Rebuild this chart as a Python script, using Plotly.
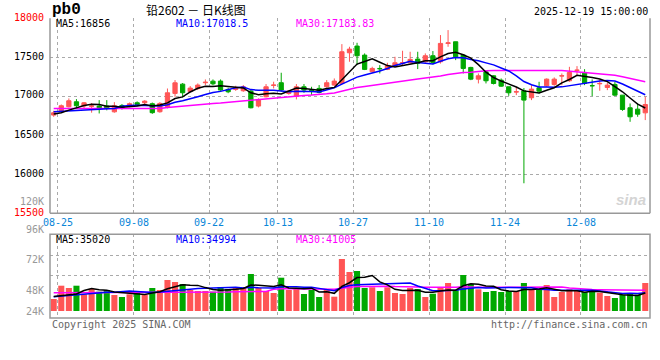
import plotly.graph_objects as go
import pandas as pd

# ---------------- data ----------------
holidays = ["2025-10-01", "2025-10-02", "2025-10-03", "2025-10-06", "2025-10-07", "2025-10-08"]
days = [d for d in pd.bdate_range("2025-08-25", "2025-12-19") if d.strftime("%Y-%m-%d") not in holidays]
dates = [d.strftime("%m-%d") for d in days]

tick_dates = ["08-25", "09-08", "09-22", "10-13", "10-27", "11-10", "11-24", "12-08"]

opens = [16759, 16802, 16866, 16930, 16875, 16872, 16875, 16875, 16801, 16883,
         16875, 16917, 16917, 16905, 16802, 16866, 17037, 17156, 17062, 17101,
         17174, 17194, 17195, 17088, 17088, 17071, 17067, 16875, 16994, 17140,
         17174, 17037, 17003, 17122, 17075, 17101, 17122, 17144, 17165, 17558,
         17644, 17528, 17315, 17357, 17345, 17387, 17425, 17430, 17477, 17443,
         17520, 17443, 17677, 17699, 17528, 17370, 17220, 17314, 17263, 17207,
         17122, 17055, 17070, 16981, 17109, 17135, 17152, 17260, 17199, 17332,
         17306, 17137, 17160, 17113, 17152, 17015, 16853, 16835, 16788]
highs = [16815, 16895, 16973, 16964, 16926, 16913, 16951, 16951, 16925, 16900,
         16920, 16935, 16950, 16920, 16925, 17100, 17208, 17170, 17131, 17165,
         17216, 17216, 17216, 17110, 17135, 17144, 17080, 16973, 17157, 17187,
         17302, 17080, 17157, 17157, 17122, 17144, 17208, 17229, 17669, 17635,
         17686, 17550, 17379, 17400, 17430, 17507, 17584, 17571, 17571, 17550,
         17580, 17785, 17849, 17700, 17540, 17378, 17293, 17323, 17270, 17229,
         17122, 17122, 17106, 17143, 17186, 17229, 17242, 17293, 17378, 17387,
         17348, 17216, 17216, 17173, 17186, 17015, 16908, 16908, 16994]
lows = [16737, 16790, 16858, 16858, 16845, 16790, 16780, 16820, 16790, 16830,
        16860, 16880, 16890, 16775, 16790, 16845, 16994, 16986, 17050, 17080,
        17144, 17140, 17070, 17040, 17070, 17058, 16845, 16858, 16986, 17101,
        17058, 17020, 16960, 17045, 17016, 17037, 17110, 17135, 17157, 17443,
        17400, 17336, 17302, 17293, 17336, 17387, 17400, 17422, 17349, 17430,
        17410, 17420, 17635, 17464, 17293, 17207, 17165, 17165, 17152, 17122,
        17006, 17015, 15885, 16951, 17036, 17122, 17135, 17143, 17186, 17272,
        17143, 17002, 17071, 17079, 17006, 16814, 16673, 16737, 16695]
closes = [16789, 16879, 16943, 16879, 16917, 16875, 16853, 16845, 16878, 16853,
          16905, 16896, 16938, 16790, 16909, 17045, 17173, 17045, 17105, 17144,
          17180, 17160, 17080, 17058, 17113, 17122, 16853, 16952, 17122, 17144,
          17080, 17067, 17122, 17080, 17071, 17050, 17174, 17195, 17571, 17605,
          17520, 17345, 17357, 17353, 17392, 17430, 17430, 17473, 17422, 17520,
          17434, 17678, 17685, 17506, 17357, 17220, 17263, 17199, 17164, 17130,
          17045, 17058, 16951, 17092, 17066, 17220, 17220, 17263, 17306, 17335,
          17165, 17135, 17165, 17143, 17015, 16831, 16737, 16771, 16895]

# volume in thousands of lots
volumes = [24.0, 50.6, 46.0, 50.6, 33.4, 44.0, 38.6, 42.0, 32.0, 28.0,
           33.4, 40.0, 32.0, 46.0, 42.0, 62.0, 58.0, 54.0, 42.0, 40.0,
           40.0, 38.6, 48.0, 44.0, 46.0, 48.0, 74.0, 46.0, 40.0, 36.0,
           66.6, 42.0, 44.0, 34.0, 42.0, 28.0, 44.0, 28.6, 104.0, 78.0,
           80.0, 46.0, 47.4, 40.0, 47.4, 36.0, 34.0, 46.0, 44.0, 28.0,
           34.6, 48.0, 56.0, 42.0, 72.0, 54.0, 43.4, 38.0, 40.0, 38.0,
           40.0, 40.0, 56.0, 42.0, 42.0, 52.0, 28.0, 38.0, 43.4, 40.0,
           38.0, 38.0, 36.6, 30.0, 26.0, 32.0, 34.0, 32.6, 56.0]

# moving-average values for days whose window starts before 08-25
ma5_head = [16772, 16790, 16823, 16855]
ma10_head = [16802, 16806, 16810, 16815, 16820, 16828, 16835, 16840, 16845]
ma30_head = [16845, 16845, 16840, 16840, 16836, 16836, 16836, 16836, 16836, 16836,
             16836, 16836, 16836, 16840, 16845, 16857, 16866, 16875, 16887, 16896,
             16905, 16909, 16913, 16922, 16930, 16945, 16950, 16960, 16972]
vma5_head = [29.0, 31.0, 32.6, 34.0]
vma10_head = [28.6, 30.0, 31.4, 32.8, 34.2, 35.6, 36.8, 37.4, 37.4]
vma30_head = [36.6] * 16 + [37.0, 37.0, 37.4, 37.4, 37.8, 37.8, 38.0, 38.0, 38.4, 38.4, 38.8, 38.8, 39.2]

price_labels = ["18000", "17500", "17000", "16500", "16000", "15500"]
vol_labels = ["96K", "72K", "48K", "24K"]
header_ma = ["MA5:16856", "MA10:17018.5", "MA30:17183.83"]
vol_ma = ["MA5:35020", "MA10:34994", "MA30:41005"]


def moving(vals, n, head):
    out = list(head)
    for i in range(len(head), len(vals)):
        out.append(sum(vals[i - n + 1:i + 1]) / n)
    return out


ma5 = moving(closes, 5, ma5_head)
ma10 = moving(closes, 10, ma10_head)
ma30 = moving(closes, 30, ma30_head)
vma5 = moving(volumes, 5, vma5_head)
vma10 = moving(volumes, 10, vma10_head)
vma30 = moving(volumes, 30, vma30_head)

# ---------------- styling / geometry ----------------
W, H = 660, 360
RED = "#ff5555"
GREEN = "#00a800"
GRID = "#aaaaaa"
BORDER = "#999999"
MONO = "DejaVu Sans Mono"

idx = list(range(len(dates)))
X0, X1 = 50, 650          # plot left/right (px)
C0, STEP = 53.7, 7.584     # first candle centre, spacing (px)
xr = [(X0 - C0) / STEP, (X1 - C0) / STEP]
GRID_OFF = 0.527

MAIN_T, MAIN_B = 18.3, 213.3
VOL_T, VOL_B = 234.3, 318.0
VOL_BASE_PX, VOL_PER_PX = 311.0, 2.0


def py(p):
    return 1 - p / H


def px(p):
    return p / W


tick_idx = [dates.index(t) + GRID_OFF for t in tick_dates]

fig = go.Figure()

fig.add_trace(go.Candlestick(
    x=idx, open=opens, high=highs, low=lows, close=closes,
    increasing=dict(line=dict(color=RED, width=1), fillcolor=RED),
    decreasing=dict(line=dict(color=GREEN, width=1), fillcolor=GREEN),
    whiskerwidth=0, xaxis="x", yaxis="y", showlegend=False, hoverinfo="skip"))

for vals, col in [(ma30, "#ff00ff"), (ma10, "#0000ff"), (ma5, "#000000")]:
    fig.add_trace(go.Scatter(x=idx, y=vals, mode="lines", line=dict(color=col, width=1.5),
                             xaxis="x", yaxis="y", showlegend=False, hoverinfo="skip"))

bar_colors = [RED if c >= o else GREEN for o, c in zip(opens, closes)]
fig.add_trace(go.Bar(x=idx, y=volumes, marker=dict(color=bar_colors, line=dict(width=0)),
                     width=0.8, xaxis="x2", yaxis="y2", showlegend=False, hoverinfo="skip"))
for vals, col in [(vma30, "#ff00ff"), (vma10, "#0000ff"), (vma5, "#000000")]:
    fig.add_trace(go.Scatter(x=idx, y=vals, mode="lines", line=dict(color=col, width=1.5),
                             xaxis="x2", yaxis="y2", showlegend=False, hoverinfo="skip"))

vol_range = [(VOL_BASE_PX - VOL_B) * VOL_PER_PX, (VOL_BASE_PX - VOL_T) * VOL_PER_PX]
vol_grid = [(VOL_BASE_PX - 255.7) * VOL_PER_PX, (VOL_BASE_PX - 275.7) * VOL_PER_PX]

common_x = dict(range=xr, tickvals=tick_idx, showticklabels=False, showgrid=True,
                gridcolor=GRID, griddash="dot", gridwidth=1, zeroline=False,
                showline=False, ticks="", fixedrange=True)

fig.update_layout(
    width=W, height=H, margin=dict(l=0, r=0, t=0, b=0),
    paper_bgcolor="white", plot_bgcolor="white",
    boxgap=0.2, bargap=0.2, hovermode=False,
    xaxis=dict(domain=[px(X0), px(X1)], anchor="y", rangeslider=dict(visible=False), **common_x),
    yaxis=dict(domain=[py(MAIN_B), py(MAIN_T)], range=[15500, 18000],
               tickvals=[16000, 16500, 17000, 17500], showticklabels=False, fixedrange=True,
               showgrid=True, gridcolor=GRID, griddash="dot", zeroline=False, ticks="", anchor="x"),
    xaxis2=dict(domain=[px(X0), px(X1)], anchor="y2", **common_x),
    yaxis2=dict(domain=[py(VOL_B), py(VOL_T)], range=vol_range, tickvals=vol_grid,
                showticklabels=False, showgrid=True, gridcolor=GRID, griddash="dot",
                zeroline=False, ticks="", anchor="x2", fixedrange=True),
)

# borders
shapes = []
ln = dict(color=BORDER, width=1.5)
shapes.append(dict(type="line", xref="paper", yref="paper", x0=px(X0), x1=px(X0), y0=py(MAIN_T), y1=py(MAIN_B), line=ln))
shapes.append(dict(type="line", xref="paper", yref="paper", x0=px(X1), x1=px(X1), y0=py(MAIN_T), y1=py(MAIN_B), line=ln))
shapes.append(dict(type="line", xref="paper", yref="paper", x0=px(X0), x1=px(X1), y0=py(MAIN_B), y1=py(MAIN_B), line=ln))
shapes.append(dict(type="rect", xref="paper", yref="paper", x0=px(X0), x1=px(X1), y0=py(VOL_B), y1=py(VOL_T), line=ln))
fig.update_layout(shapes=shapes)

ann = []


def text(x, y, s, color="#000", size=10, xanchor="left", family=MONO, bold=False, italic=False):
    if bold:
        s = "<b>" + s + "</b>"
    if italic:
        s = "<i>" + s + "</i>"
    ann.append(dict(x=px(x), y=py(y), xref="paper", yref="paper", text=s, showarrow=False,
                    xanchor=xanchor, yanchor="middle",
                    font=dict(color=color, size=size, family=family)))


# header
text(50, 10, "pb0", size=16, family="Liberation Mono", bold=True)
text(196, 9.5, "铅2602 － 日K线图", size=12, xanchor="center", family="Noto Sans CJK SC")
text(650, 12, "2025-12-19 15:00:00", xanchor="right")

# MA legends
for s, col, x in zip(header_ma, ["#000000", "#0000ff", "#ff00ff"], [54, 174, 294]):
    text(x, 23.5, s, color=col)
for s, col, x in zip(vol_ma, ["#000000", "#0000ff", "#ff00ff"], [54, 174, 294]):
    text(x, 239, s, color=col)

# price axis labels
for s, y in zip(price_labels, [17, 56, 95, 134, 173, 212]):
    col = "#ff0000" if s in ("18000", "15500") else "#000000"
    text(46, y, s, color=col, xanchor="right")
text(46, 201, "120K", color="#999999", xanchor="right")
for s, y in zip(vol_labels, [230, 259.5, 290.5, 311]):
    text(46, y, s, color="#999999", xanchor="right")

# date labels
for t, xi in zip(tick_dates, tick_idx):
    ann.append(dict(x=xi, y=py(222), xref="x", yref="paper", text=t, showarrow=False,
                    xanchor="center", yanchor="middle",
                    font=dict(color="#0a86d8", size=10, family=MONO)))

# footer
text(50, 324, "Copyright 2025 SINA.COM", color="#666666")
text(650, 324, "http://finance.sina.com.cn", color="#666666", xanchor="right")

# watermark
text(648, 199, "sina", color="#d4d4d4", size=15, xanchor="right", family="Liberation Sans", bold=True, italic=True)

fig.update_layout(annotations=ann)
fig.write_html("out.html", config={"displayModeBar": False, "staticPlot": True},
               post_script="document.body.style.margin='0';document.body.style.padding='0';")
